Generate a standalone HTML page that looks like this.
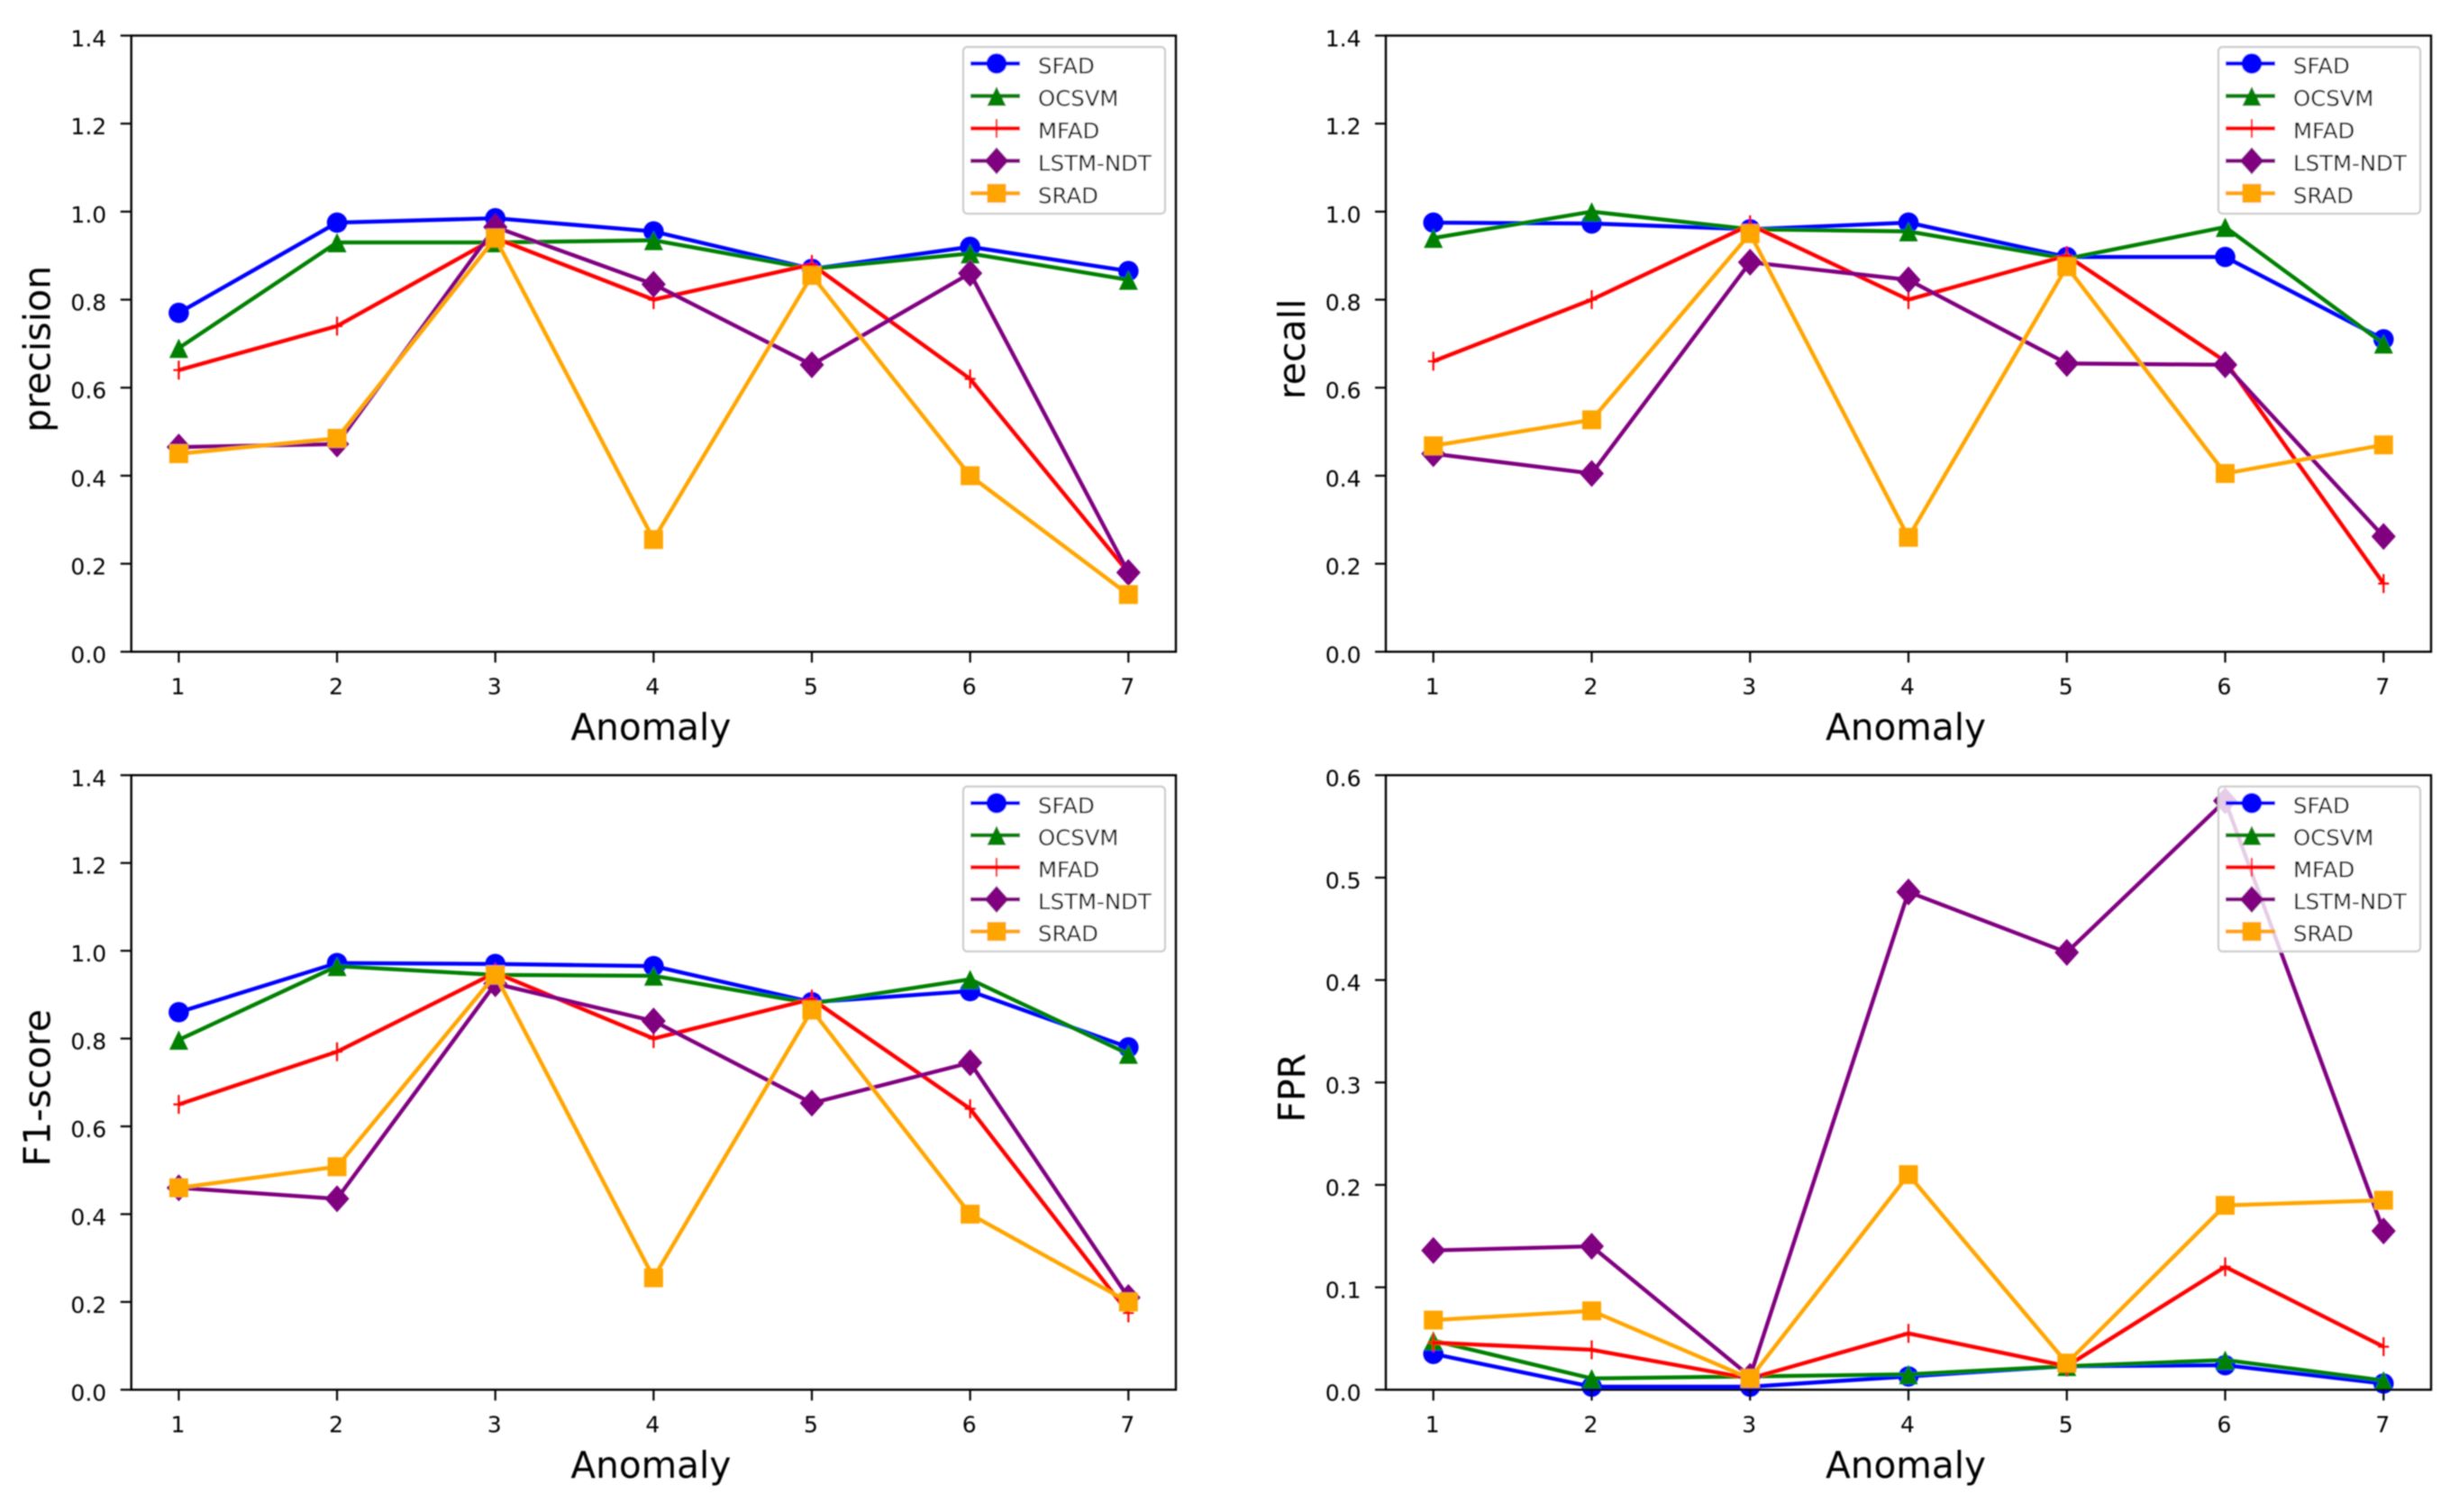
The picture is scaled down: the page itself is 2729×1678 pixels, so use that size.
<!DOCTYPE html>
<html lang="en">
<head>
<meta charset="utf-8">
<title>Anomaly detection metrics</title>
<style>
html,body{margin:0;padding:0;background:#fff;}
svg{display:block;}
text{font-family:"DejaVu Sans","Liberation Sans",sans-serif;fill:#000;}
</style>
</head>
<body>
<svg id="figure" xmlns="http://www.w3.org/2000/svg" width="2729" height="1678" viewBox="0 0 2729 1678">
<defs><filter id="soft" x="-2%" y="-2%" width="104%" height="104%"><feGaussianBlur stdDeviation="0.75"/></filter></defs>
<rect x="0" y="0" width="2729" height="1678" fill="#fff"/>
<g id="root" filter="url(#soft)"></g>
</svg>
<script>
const categories = [1, 2, 3, 4, 5, 6, 7];
const seriesNames = ['SFAD', 'OCSVM', 'MFAD', 'LSTM-NDT', 'SRAD'];

const precisionSfad = [0.77, 0.975, 0.985, 0.955, 0.87, 0.92, 0.865];
const precisionOcsvm = [0.69, 0.93, 0.93, 0.935, 0.87, 0.905, 0.845];
const precisionMfad = [0.64, 0.74, 0.94, 0.80, 0.88, 0.62, 0.18];
const precisionLstm = [0.465, 0.472, 0.965, 0.835, 0.652, 0.86, 0.18];
const precisionSrad = [0.45, 0.485, 0.94, 0.255, 0.855, 0.40, 0.13];

const recallSfad = [0.975, 0.973, 0.96, 0.975, 0.897, 0.897, 0.71];
const recallOcsvm = [0.94, 1.0, 0.96, 0.955, 0.893, 0.965, 0.70];
const recallMfad = [0.66, 0.80, 0.97, 0.80, 0.90, 0.66, 0.155];
const recallLstm = [0.45, 0.405, 0.885, 0.845, 0.655, 0.652, 0.262];
const recallSrad = [0.468, 0.527, 0.95, 0.26, 0.875, 0.405, 0.47];

const f1Sfad = [0.86, 0.972, 0.97, 0.965, 0.883, 0.908, 0.78];
const f1Ocsvm = [0.797, 0.965, 0.945, 0.943, 0.88, 0.935, 0.765];
const f1Mfad = [0.65, 0.77, 0.95, 0.80, 0.89, 0.64, 0.175];
const f1Lstm = [0.46, 0.435, 0.925, 0.84, 0.653, 0.745, 0.21];
const f1Srad = [0.46, 0.508, 0.945, 0.255, 0.865, 0.40, 0.20];

const fprSfad = [0.035, 0.003, 0.003, 0.013, 0.023, 0.024, 0.006];
const fprOcsvm = [0.048, 0.011, 0.013, 0.015, 0.023, 0.029, 0.009];
const fprMfad = [0.046, 0.039, 0.011, 0.055, 0.023, 0.12, 0.042];
const fprLstm = [0.136, 0.14, 0.013, 0.486, 0.427, 0.575, 0.155];
const fprSrad = [0.068, 0.077, 0.011, 0.21, 0.026, 0.18, 0.185];

const scoreTicks = ['0.0', '0.2', '0.4', '0.6', '0.8', '1.0', '1.2', '1.4'];
const fprTicks = ['0.0', '0.1', '0.2', '0.3', '0.4', '0.5', '0.6'];

const precisionSeries = [precisionSfad, precisionOcsvm, precisionMfad, precisionLstm, precisionSrad];
const recallSeries = [recallSfad, recallOcsvm, recallMfad, recallLstm, recallSrad];
const f1Series = [f1Sfad, f1Ocsvm, f1Mfad, f1Lstm, f1Srad];
const fprSeries = [fprSfad, fprOcsvm, fprMfad, fprLstm, fprSrad];

const NS = 'http://www.w3.org/2000/svg';
const root = document.getElementById('root');
const colors = ['#0000ff', '#008000', '#ff0000', '#800080', '#ffa500'];
const markerKinds = ['circle', 'triangle', 'plus', 'diamond', 'square'];
const lineWidths = [4.4, 4.4, 4.4, 4.4, 4.4];

function mk(tag, attrs, parent) {
  const n = document.createElementNS(NS, tag);
  for (const k in attrs) n.setAttribute(k, attrs[k]);
  parent.appendChild(n);
  return n;
}

function drawMarker(kind, x, y, color, parent) {
  if (kind === 'circle') {
    return mk('circle', {cx: x, cy: y, r: 11.3, fill: color}, parent);
  }
  if (kind === 'triangle') {
    const pts = [[x, y - 10.5], [x + 10.5, y + 11], [x - 10.5, y + 11]].join(' ');
    return mk('polygon', {points: pts, fill: color}, parent);
  }
  if (kind === 'diamond') {
    const pts = [[x, y - 15], [x + 13.5, y], [x, y + 15], [x - 13.5, y]].join(' ');
    return mk('polygon', {points: pts, fill: color}, parent);
  }
  if (kind === 'square') {
    return mk('rect', {x: x - 10.5, y: y - 10.5, width: 21, height: 21, fill: color}, parent);
  }
  const d = 'M' + (x - 6) + ' ' + y + 'H' + (x + 6) + 'M' + x + ' ' + (y - 10.5) + 'V' + (y + 10.5);
  return mk('path', {d: d, stroke: color, 'stroke-width': 2.2, fill: 'none'}, parent);
}

function drawPanel(panel) {
  const g = mk('g', {}, root);
  
  

  const L = panel.left, T = panel.top, R = panel.right, B = panel.bottom;
  const xScale = function (v) { return L + (v - 0.7) / 6.6 * (R - L); };
  const yScale = function (v) { return B - v / panel.yMax * (B - T); };

  panel.values.forEach(function (vals, s) {
    const sg = mk('g', {}, g);
    
    
    const pts = vals.map(function (v, i) { return xScale(categories[i]) + ',' + yScale(v); }).join(' ');
    const line = mk('polyline', {points: pts, fill: 'none', stroke: colors[s], 'stroke-width': lineWidths[s], 'stroke-linejoin': 'round'}, sg);
    
    
    vals.forEach(function (v, i) {
      const m = drawMarker(markerKinds[s], xScale(categories[i]), yScale(v), colors[s], sg);
      
      
    });
  });

  const frame = mk('rect', {x: L, y: T, width: R - L, height: B - T, fill: 'none', stroke: '#000', 'stroke-width': 2.4}, g);
  
  

  categories.forEach(function (c) {
    const x = xScale(c);
    const tick = mk('line', {x1: x, x2: x, y1: B, y2: B + 12, stroke: '#000', 'stroke-width': 2.2}, g);
    
    
    const label = mk('text', {x: x - 1, y: B + 47, 'text-anchor': 'middle', 'font-size': 25}, g);
    
    
    label.textContent = String(c);
  });

  panel.ticks.forEach(function (t) {
    const y = yScale(parseFloat(t));
    const tick = mk('line', {x1: L - 12, x2: L, y1: y, y2: y, stroke: '#000', 'stroke-width': 2.2}, g);
    
    
    const label = mk('text', {x: L - 27.5, y: y + 12, 'text-anchor': 'end', 'font-size': 25}, g);
    
    
    label.textContent = t;
  });

  const xTitle = mk('text', {x: (L + R) / 2 - 3, y: B + 97.5, 'text-anchor': 'middle', 'font-size': 40.6}, g);
  
  
  xTitle.textContent = 'Anomaly';

  const yx = L - 90, yy = (T + B) / 2 + 6;
  const yTitle = mk('text', {x: yx, y: yy, 'text-anchor': 'middle', 'font-size': 41, transform: 'rotate(-90 ' + yx + ' ' + yy + ')'}, g);
  
  
  yTitle.textContent = panel.yLabel;

  const lg = mk('g', {}, g);
  
  
  const lx = R - 236, ly = T + 12.6;
  const rowGap = panel.legendGap;
  const box = mk('rect', {x: lx, y: ly, width: 224, height: rowGap * 5 + 5, rx: 4.5, ry: 4.5, fill: '#fff', 'fill-opacity': 0.8, stroke: '#cccccc', 'stroke-width': 2.2}, lg);
  
  
  seriesNames.forEach(function (name, s) {
    const ry = T + 31 + s * rowGap;
    const entry = mk('g', {}, lg);
    
    
    const sample = mk('line', {x1: lx + 8, x2: lx + 63, y1: ry, y2: ry, stroke: colors[s], 'stroke-width': lineWidths[s]}, entry);
    
    
    const mark = drawMarker(markerKinds[s], lx + 37, ry, colors[s], entry);
    
    
    const label = mk('text', {x: lx + 83, y: ry + 11, 'font-size': 24.4}, entry);
    
    
    label.textContent = name;
  });
}

const colLeft = [145.7, 1538], colRight = [1305, 2698];
const rowTop = [39.5, 860.3], rowBottom = [723.3, 1542.3];

drawPanel({name: 'precision', yLabel: 'precision', yMax: 1.4, ticks: scoreTicks, values: precisionSeries, legendGap: 36,
  left: colLeft[0], right: colRight[0], top: rowTop[0], bottom: rowBottom[0]});
drawPanel({name: 'recall', yLabel: 'recall', yMax: 1.4, ticks: scoreTicks, values: recallSeries, legendGap: 36,
  left: colLeft[1], right: colRight[1], top: rowTop[0], bottom: rowBottom[0]});
drawPanel({name: 'f1-score', yLabel: 'F1-score', yMax: 1.4, ticks: scoreTicks, values: f1Series, legendGap: 35.6,
  left: colLeft[0], right: colRight[0], top: rowTop[1], bottom: rowBottom[1]});
drawPanel({name: 'fpr', yLabel: 'FPR', yMax: 0.6, ticks: fprTicks, values: fprSeries, legendGap: 35.6,
  left: colLeft[1], right: colRight[1], top: rowTop[1], bottom: rowBottom[1]});
</script>
</body>
</html>
